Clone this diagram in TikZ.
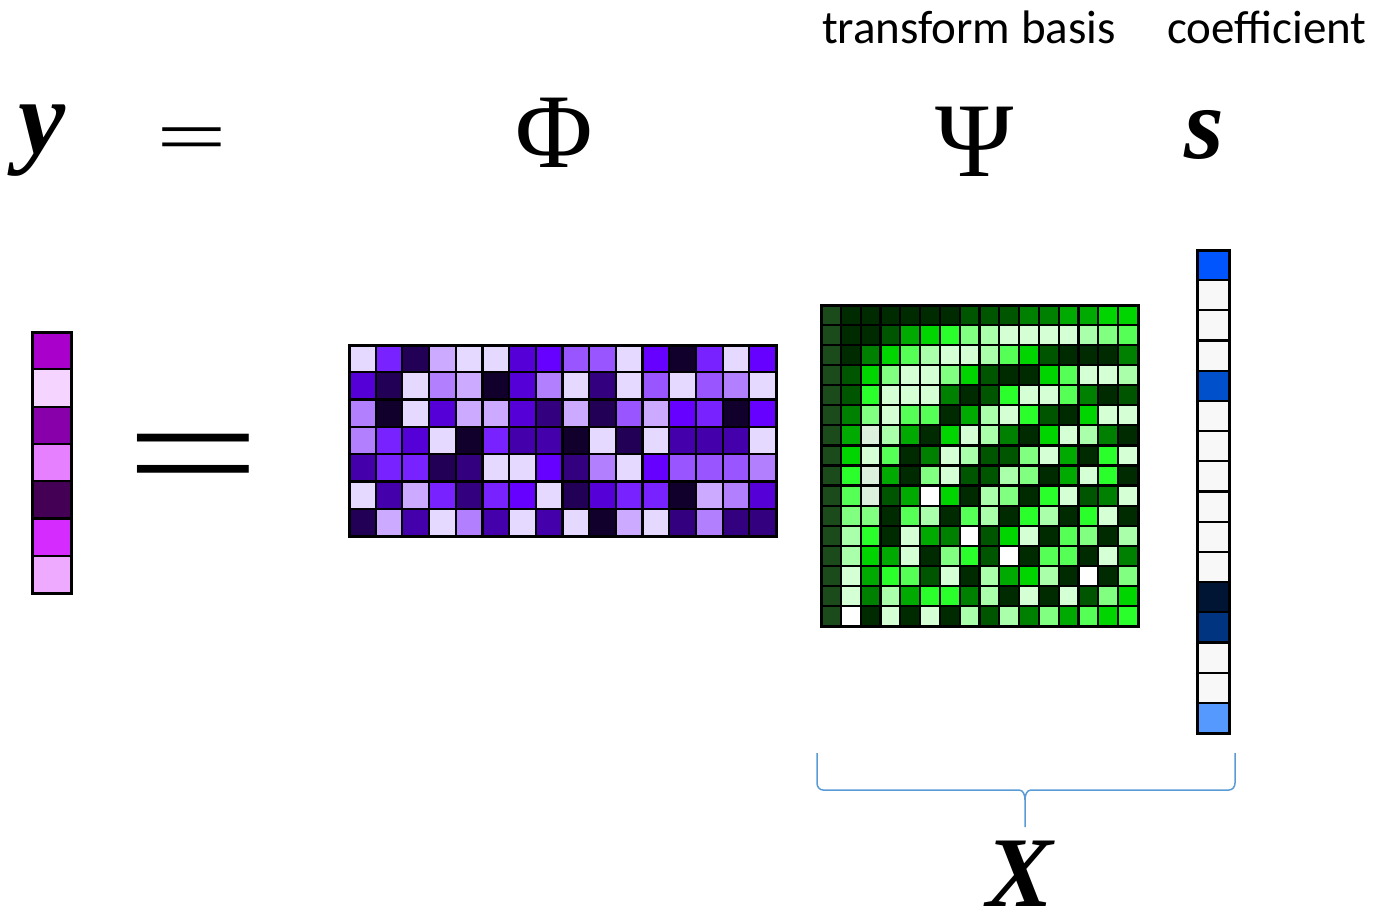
\documentclass[tikz,border=0pt]{standalone}
\usepackage{fontspec}
\setmainfont{Carlito}
\newfontfamily\mathface{Liberation Serif}
\usepackage{tikz}
\usetikzlibrary{positioning,calc}
% purple shades for Phi
\definecolor{ph0}{HTML}{E6D9FF}
\definecolor{ph1}{HTML}{CCAAFF}
\definecolor{ph2}{HTML}{B280FF}
\definecolor{ph3}{HTML}{9955FF}
\definecolor{ph4}{HTML}{7722FF}
\definecolor{ph5}{HTML}{6600FF}
\definecolor{ph6}{HTML}{5500D6}
\definecolor{ph7}{HTML}{4400AA}
\definecolor{ph8}{HTML}{330080}
\definecolor{ph9}{HTML}{220055}
\definecolor{ph10}{HTML}{11002B}
% green shades for Psi
\definecolor{gr0}{HTML}{FFFFFF}
\definecolor{gr1}{HTML}{D5FFD5}
\definecolor{gr2}{HTML}{AAFFAA}
\definecolor{gr3}{HTML}{80FF80}
\definecolor{gr4}{HTML}{55FF55}
\definecolor{gr5}{HTML}{2BFF2B}
\definecolor{gr6}{HTML}{00D500}
\definecolor{gr7}{HTML}{00AA00}
\definecolor{gr8}{HTML}{008000}
\definecolor{gr9}{HTML}{005500}
\definecolor{gr10}{HTML}{002B00}
\definecolor{grl}{HTML}{1B4B1B}
\definecolor{grp}{HTML}{DDF0DD}
% y and s entries
\definecolor{ya}{HTML}{AA00CC}
\definecolor{yb}{HTML}{F5D5FF}
\definecolor{yc}{HTML}{8800AA}
\definecolor{yd}{HTML}{E680FF}
\definecolor{ye}{HTML}{440055}
\definecolor{yf}{HTML}{D52BFF}
\definecolor{yg}{HTML}{EEAAFF}
\definecolor{sw}{HTML}{F8F8F8}
\definecolor{sa}{HTML}{0055FF}
\definecolor{sb}{HTML}{0050CC}
\definecolor{sc}{HTML}{001433}
\definecolor{sd}{HTML}{003380}
\definecolor{se}{HTML}{5599FF}
\definecolor{bracecol}{HTML}{5B9BD5}
\tikzset{
  cell/.style={rectangle,draw=black,line width=2.2pt,inner sep=0pt,
    minimum width=#1},
  frame/.style={draw=black,line width=3pt},
  symb/.style={font=\mathface\fontsize{106}{106}\selectfont,inner sep=0pt,anchor=base},
  varsymb/.style={font=\mathface\bfseries\itshape\fontsize{#1}{#1}\selectfont,
    inner sep=0pt,anchor=base},
  eqsign/.style={font=\mathface\fontsize{#1}{#1}\selectfont,inner sep=0pt,
    anchor=base,transform shape},
  caption/.style={font=\fontsize{47}{50}\selectfont,inner sep=0pt,anchor=base},
  bracepath/.style={draw=bracecol,line width=1.5pt},
}
\begin{document}
\begin{tikzpicture}[x=1pt,y=-1pt]
\useasboundingbox (0,0) rectangle (1382,916);

% -- symbols on top row --
\node[varsymb=106] (ysym) at (42,153) {y};
\node[eqsign=76,xscale=1.65] (eqtop) at (192,162) {=};
\node[symb] (phisym) at (554,167) {Φ};
\node[symb] (psisym) at (975,176) {Ψ};
\node[varsymb=102] (ssym) at (1204,158) {s};
\node[caption] (tblabel) at (969,43) {transform basis};
\node[caption] (coeflabel) at (1267,43) {coefficient};

% -- measurement vector y --
\foreach \col [count=\r] in {ya,yb,yc,yd,ye,yf,yg}
  \node[cell=39pt,minimum height=37.3pt,fill=\col] (y-\r) at (51.5,{332+(\r-0.5)*37.3}) {};
\draw[frame] (32,332) rectangle (71,593);

\node[eqsign=156,xscale=1.54] (eqbig) at (193,505) {=};

% -- sensing matrix Phi (7 x 16) --
\foreach \row [count=\r] in {
  {ph0,ph4,ph9,ph1,ph0,ph0,ph6,ph5,ph3,ph3,ph0,ph5,ph10,ph4,ph0,ph5},
  {ph6,ph9,ph0,ph2,ph1,ph10,ph6,ph2,ph0,ph8,ph0,ph3,ph0,ph3,ph2,ph0},
  {ph2,ph10,ph0,ph6,ph1,ph1,ph6,ph8,ph1,ph9,ph3,ph1,ph5,ph4,ph10,ph5},
  {ph2,ph4,ph6,ph0,ph10,ph4,ph7,ph7,ph10,ph0,ph9,ph0,ph7,ph7,ph7,ph0},
  {ph7,ph4,ph4,ph9,ph8,ph0,ph0,ph5,ph8,ph2,ph0,ph5,ph3,ph3,ph3,ph2},
  {ph0,ph7,ph1,ph4,ph8,ph4,ph5,ph0,ph9,ph6,ph4,ph4,ph10,ph1,ph2,ph6},
  {ph9,ph1,ph7,ph0,ph2,ph7,ph0,ph7,ph0,ph10,ph1,ph0,ph8,ph2,ph8,ph8}}
  \foreach \col [count=\c] in \row
    \node[cell=26.69pt,minimum height=27.29pt,fill=\col] (phi-\r-\c)
      at ({349+(\c-0.5)*26.69},{345+(\r-0.5)*27.29}) {};
\draw[frame] (349,345) rectangle (776,536);

% -- transform basis Psi (16 x 16) --
\foreach \row [count=\r] in {
  {grl,gr10,gr10,gr10,gr10,gr10,gr10,gr9,gr9,gr9,gr8,gr8,gr7,gr7,gr6,gr6},
  {grl,gr10,gr10,gr9,gr7,gr6,gr5,gr3,gr2,gr1,gr1,gr1,gr1,gr2,gr3,gr4},
  {grl,gr10,gr8,gr6,gr4,gr2,gr1,gr1,gr2,gr4,gr6,gr9,gr10,gr10,gr10,gr8},
  {grl,gr9,gr6,gr3,gr1,gr1,gr3,gr6,gr9,gr10,gr10,gr6,gr4,gr1,gr1,gr2},
  {grl,gr9,gr5,gr1,gr1,gr1,gr8,gr10,gr9,gr5,gr1,gr1,gr4,gr8,gr10,gr9},
  {grl,gr8,gr3,gr1,gr4,gr4,gr10,gr7,gr2,gr1,gr5,gr9,gr10,gr6,gr1,gr1},
  {grl,gr7,grp,gr2,gr7,gr10,gr6,gr1,gr2,gr8,gr10,gr6,gr1,gr2,gr8,gr10},
  {grl,gr6,gr1,gr4,gr10,gr8,gr1,gr2,gr9,gr9,gr3,gr1,gr7,gr10,gr5,gr1},
  {grl,gr5,grp,gr7,gr10,gr3,gr1,gr9,gr9,gr2,gr3,gr10,gr7,gr1,gr5,gr10},
  {grl,gr4,grp,gr9,gr7,gr0,gr6,gr10,gr2,gr3,gr10,gr5,gr1,gr9,gr8,gr1},
  {grl,gr3,gr3,gr10,gr4,gr2,gr10,gr4,gr2,gr10,gr5,gr2,gr10,gr5,gr1,gr10},
  {grl,gr2,gr5,gr10,gr1,gr7,gr8,gr0,gr9,gr6,gr1,gr10,gr4,gr3,gr10,gr2},
  {grl,gr2,gr6,gr7,gr1,gr10,gr3,gr5,gr9,gr0,gr10,gr4,gr4,gr10,gr1,gr8},
  {grl,gr1,gr7,gr5,gr4,gr9,gr1,gr10,gr2,gr7,gr6,gr2,gr10,gr0,gr10,gr3},
  {grl,gr1,gr8,gr2,gr7,gr5,gr5,gr8,gr2,gr10,gr1,gr10,gr1,gr9,gr3,gr6},
  {grl,gr0,gr10,gr1,gr10,gr1,gr10,gr2,gr9,gr2,gr8,gr3,gr7,gr4,gr6,gr5}}
  \foreach \col [count=\c] in \row
    \node[cell=19.81pt,minimum height=20.06pt,fill=\col] (psi-\r-\c)
      at ({821+(\c-0.5)*19.81},{305+(\r-0.5)*20.06}) {};
\draw[frame] (821,305) rectangle (1138,626);

% -- sparse coefficients s --
\foreach \col [count=\r] in {sa,sw,sw,sw,sb,sw,sw,sw,sw,sw,sw,sc,sd,sw,sw,se}
  \node[cell=32pt,minimum height=30.19pt,fill=\col] (s-\r) at (1213,{250+(\r-0.5)*30.19}) {};
\draw[frame] (1197,250) rectangle (1229,733);

% -- brace under Psi s --
\coordinate (brl) at (817,753);
\coordinate (brr) at (1235,753);
\coordinate (brtip) at (1025,827);
\draw[bracepath] (brl) -- ++(0,30) to[out=-90,in=180] ++(6,7)
  -- ($(brtip)+(-6,-37)$) to[out=0,in=90] ($(brtip)+(0,-27)$) -- (brtip);
\draw[bracepath] (brr) -- ++(0,30) to[out=-90,in=0] ++(-6,7)
  -- ($(brtip)+(6,-37)$) to[out=180,in=90] ($(brtip)+(0,-27)$);
\node[varsymb=100] (xsym) at (1020,906) {X};

\end{tikzpicture}
\end{document}
